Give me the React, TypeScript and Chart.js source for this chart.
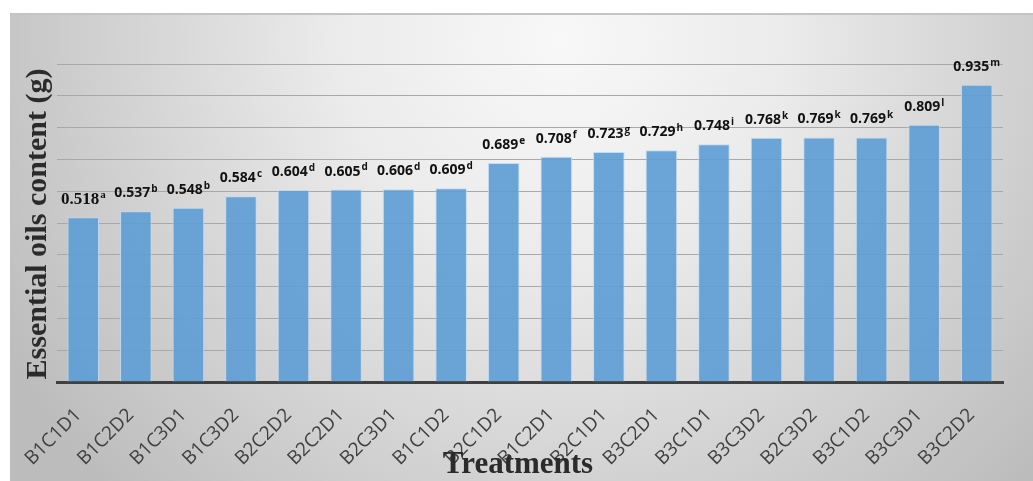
import React, { useEffect, useRef } from "react";
import { Chart, registerables } from "chart.js";

Chart.register(...registerables);

const categories: string[] = [
  "B1C1D1", "B1C2D2", "B1C3D1", "B1C3D2", "B2C2D2", "B2C2D1", "B2C3D1", "B1C1D2", "B2C1D2",
  "B1C2D1", "B2C1D1", "B3C2D1", "B3C1D1", "B3C3D2", "B2C3D2", "B3C1D2", "B3C3D1", "B3C2D2",
];
const oilValues: number[] = [
  0.518, 0.537, 0.548, 0.584, 0.604, 0.605, 0.606, 0.609, 0.689,
  0.708, 0.723, 0.729, 0.748, 0.768, 0.769, 0.769, 0.809, 0.935,
];
const significanceLetters: string[] = [
  "a", "b", "b", "c", "d", "d", "d", "d", "e", "f", "g", "h", "i", "k", "k", "k", "l", "m",
];
const yAxisTitle = "Essential oils content (g)";
const xAxisTitle = "Treatments";

const W = 1033;
const H = 481;

const backgroundPlugin = {
  id: "bgPanel",
  beforeDraw(chart: any) {
    const ctx = chart.ctx;
    ctx.save();
    ctx.fillStyle = "#ffffff";
    ctx.fillRect(0, 0, W, H);
    const g = ctx.createRadialGradient(560, 40, 0, 560, 40, 640);
    g.addColorStop(0, "#f8f8f8");
    g.addColorStop(0.35, "#ebebeb");
    g.addColorStop(1, "#bcbcbc");
    ctx.fillStyle = g;
    ctx.fillRect(10, 14, W - 10, H - 14);
    ctx.strokeStyle = "#c4c4c4";
    ctx.lineWidth = 2;
    ctx.beginPath();
    ctx.moveTo(10, 14);
    ctx.lineTo(W, 14);
    ctx.stroke();
    ctx.restore();
  },
};

const labelPlugin = {
  id: "valueLabels",
  afterDatasetsDraw(chart: any) {
    const ctx = chart.ctx;
    const meta = chart.getDatasetMeta(0);
    ctx.save();
    ctx.fillStyle = "#111111";
    ctx.textBaseline = "middle";
    meta.data.forEach((bar: any, i: number) => {
      const serif = i === 0;
      const mainFont = serif ? "bold 17px 'Liberation Serif'" : "bold 14px 'Open Sans'";
      const supFont = serif ? "bold 11px 'Liberation Serif'" : "bold 10px 'Open Sans'";
      const main = oilValues[i].toFixed(3);
      const sup = significanceLetters[i];
      ctx.font = mainFont;
      const mw = ctx.measureText(main).width;
      ctx.font = supFont;
      const sw = ctx.measureText(sup).width;
      const total = mw + 1 + sw;
      const x0 = bar.x - total / 2;
      const yc = bar.y - 18;
      ctx.textAlign = "left";
      ctx.font = mainFont;
      ctx.fillText(main, x0, yc);
      ctx.font = supFont;
      ctx.fillText(sup, x0 + mw + 1, yc - 4);
    });
    ctx.restore();
  },
};

const titlePlugin = {
  id: "axisTitles",
  afterDraw(chart: any) {
    const ctx = chart.ctx;
    ctx.save();
    ctx.fillStyle = "#2b2b2b";
    ctx.font = "bold 31px 'Liberation Serif'";
    ctx.textAlign = "center";
    ctx.textBaseline = "alphabetic";
    ctx.fillText(xAxisTitle, 518, 473);
    ctx.font = "bold 30px 'Liberation Serif'";
    ctx.translate(46, 224);
    ctx.rotate(-Math.PI / 2);
    ctx.fillText(yAxisTitle, 0, 0);
    ctx.restore();
  },
};

export default function App() {
  const ref = useRef<HTMLCanvasElement | null>(null);
  useEffect(() => {
    if (!ref.current) return;
    const chart = new Chart(ref.current, {
      type: "bar",
      data: {
        labels: categories,
        datasets: [
          {
            data: oilValues,
            backgroundColor: "rgba(96,158,214,0.92)",
            borderColor: "rgba(190,218,242,0.95)",
            borderWidth: 1,
            barPercentage: 0.6,
            categoryPercentage: 1,
          },
        ],
      },
      options: {
        responsive: false,
        animation: false,
        devicePixelRatio: 1,
        layout: { padding: { left: 57, right: 30, top: 64, bottom: 0 } },
        plugins: { legend: { display: false }, tooltip: { enabled: false } },
        scales: {
          x: {
            grid: { display: false },
            border: { display: true, color: "#404040", width: 3 },
            ticks: {
              minRotation: 45,
              maxRotation: 45,
              color: "#404040",
              font: { family: "'Open Sans'", size: 19 },
              padding: 14,
              labelOffset: -5,
            },
            afterFit: (s: any) => {
              s.height = 99;
            },
          },
          y: {
            min: 0,
            max: 1,
            ticks: { display: false, stepSize: 0.1 },
            grid: { color: "#a8a8a8", lineWidth: 1, drawTicks: false },
            border: { display: false },
            afterFit: (s: any) => {
              s.width = 0;
            },
          },
        },
      },
      plugins: [backgroundPlugin, labelPlugin, titlePlugin],
    });
    return () => chart.destroy();
  }, []);
  return (
    <div style={{ position: "absolute", left: 0, top: 0, width: W, height: H }}>
      <canvas ref={ref} width={W} height={H} style={{ display: "block" }} />
    </div>
  );
}
